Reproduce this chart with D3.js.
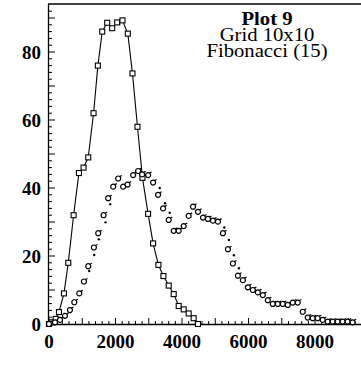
<!DOCTYPE html>
<html lang="en">
<head>
   <meta charset="UTF-8">
   <title>Plot 9</title>
   <style>
      body { margin: 0; background: white; }
      text { font-family: "Liberation Serif", "DejaVu Serif", serif; fill: black; }
      .tick-label { font-weight: bold; font-size: 19px; }
      .note { font-size: 18px; text-anchor: middle; }
   </style>
   <script src="https://cdn.jsdelivr.net/npm/d3@7"></script>
</head>
<body>
   <svg id="chart"></svg>
   <script>
      // squares joined by a line
      const sqX = [0, 100, 200, 300, 450, 580, 740, 900, 1040, 1180, 1340, 1470, 1600, 1750, 1900, 2050, 2210, 2370, 2510, 2660, 2810, 2980, 3130, 3290, 3440, 3600, 3750, 3900, 4050, 4200, 4350, 4480]
      const sqY = [0, 0.5, 1.5, 3.5, 9, 18, 32, 44.4, 46, 49, 62, 76, 86, 88.6, 87, 88.7, 89.3, 85.4, 73.7, 58, 43, 32.4, 23.7, 17.4, 14.1, 11.3, 8.8, 5.3, 4.3, 3.1, 1.7, 0]

      // open circle markers
      const cX = [0, 180, 330, 480, 630, 760, 910, 1050, 1180, 1350, 1480, 1640, 1780, 1930, 2080, 2230, 2360, 2530, 2680, 2800, 2980, 3130, 3280, 3430, 3600, 3750, 3900, 4050, 4200, 4330, 4480, 4630, 4780, 4930, 5080, 5230, 5380, 5530, 5680, 5830, 5980, 6130, 6280, 6430, 6580, 6730, 6880, 7030, 7180, 7330, 7480, 7630, 7780, 7930, 8080, 8230, 8380, 8530, 8680, 8830, 8980, 9130]
      const cY = [0, 0.5, 1.2, 2.4, 4.1, 6.4, 9, 12.5, 17, 22.5, 26.7, 32, 37, 40.4, 42.8, 40.4, 41, 43.8, 45, 44, 43.8, 41.6, 38, 34, 30.6, 27.4, 27.4, 28.8, 31.8, 34.5, 33, 31.3, 30.9, 30.4, 30.1, 26.7, 22, 17.8, 14.2, 12.9, 10.8, 10, 9.3, 8.5, 7, 5.9, 5.9, 5.9, 5.6, 6.3, 6.3, 3.6, 1.9, 1.7, 1.7, 1.2, 0.7, 0.7, 0.7, 0.7, 0.7, 0.5]

      // small filled dots
      const dX = [1210, 1360, 1500, 1700, 1840, 3330, 3490, 3630, 5270, 5410, 5560, 5710]
      const dY = [15.6, 20.3, 24.9, 29.9, 35.2, 40, 35.5, 32.7, 28.4, 24.7, 20.2, 16.4]

      const xTicks = [0, 2000, 4000, 6000, 8000]
      const yTicks = [0, 20, 40, 60, 80]
      const notes = ['Plot 9', 'Grid 10x10', 'Fibonacci (15)']

      const W = 361, H = 374
      const svg = d3.select('#chart').attr('width', W).attr('height', H)

      const x = d3.scaleLinear().domain([0, 9400]).range([49, 361.6])
      const y = d3.scaleLinear().domain([0, 94]).range([324, 4.4])

      // frame: left, top, bottom
      const frame = svg.append('g').attr('stroke', 'black').attr('stroke-width', 1.3)
      frame.append('line').attr('x1', 48.5).attr('x2', 48.5).attr('y1', 4).attr('y2', 324.5)
      frame.append('line').attr('x1', 48).attr('x2', W).attr('y1', 4).attr('y2', 4)
      frame.append('line').attr('x1', 48).attr('x2', W).attr('y1', 324.5).attr('y2', 324.5)

      // inward ticks
      const ticks = svg.append('g').attr('stroke', 'black').attr('stroke-width', 1)
      ticks.selectAll('line.xt')
         .data(d3.range(0, 9401, 200))
         .enter()
         .append('line')
            .attr('x1', d => x(d)).attr('x2', d => x(d))
            .attr('y1', 324).attr('y2', d => d % 1000 === 0 ? 318 : 321)
      ticks.selectAll('line.yt')
         .data(d3.range(0, 94, 2))
         .enter()
         .append('line')
            .attr('x1', 49).attr('x2', d => d % 10 === 0 ? 55 : 52)
            .attr('y1', d => y(d)).attr('y2', d => y(d))

      svg.selectAll('text.xl')
         .data(xTicks)
         .enter()
         .append('text')
            .attr('class', 'tick-label')
            .attr('text-anchor', 'middle')
            .attr('x', d => x(d))
            .attr('y', 348)
            .text(d => d)

      svg.selectAll('text.yl')
         .data(yTicks)
         .enter()
         .append('text')
            .attr('class', 'tick-label')
            .attr('text-anchor', 'end')
            .attr('x', 41)
            .attr('y', d => y(d))
            .attr('dy', '0.35em')
            .text(d => d)

      // line + squares
      const sq = sqX.map((v, i) => [v, sqY[i]])
      svg.append('path')
         .attr('d', d3.line().x(d => x(d[0])).y(d => y(d[1]))(sq))
         .attr('fill', 'none')
         .attr('stroke', 'black')
         .attr('stroke-width', 1.1)
      svg.selectAll('rect.sq')
         .data(sq)
         .enter()
         .append('rect')
            .attr('x', d => x(d[0]) - 2.5)
            .attr('y', d => y(d[1]) - 2.5)
            .attr('width', 5).attr('height', 5)
            .attr('fill', 'white')
            .attr('stroke', 'black')
            .attr('stroke-width', 1.1)

      // circles with a small tail
      const circ = cX.map((v, i) => [v, cY[i]])
      const cg = svg.selectAll('g.c')
         .data(circ)
         .enter()
         .append('g')
            .attr('transform', d => `translate(${x(d[0])}, ${y(d[1])})`)
      cg.append('circle')
         .attr('r', 2.5)
         .attr('fill', 'white')
         .attr('stroke', 'black')
         .attr('stroke-width', 1.2)
      cg.append('line')
         .attr('x1', 1.5).attr('y1', -2)
         .attr('x2', 3.6).attr('y2', -3)
         .attr('stroke', 'black')
         .attr('stroke-width', 1.2)

      svg.selectAll('circle.d')
         .data(dX.map((v, i) => [v, dY[i]]))
         .enter()
         .append('circle')
            .attr('cx', d => x(d[0]))
            .attr('cy', d => y(d[1]))
            .attr('r', 1.2)
            .attr('fill', 'black')

      // notes, stretched a little to get the wide look of the original type
      svg.selectAll('text.note')
         .data(notes)
         .enter()
         .append('text')
            .attr('class', 'note')
            .attr('transform', (d, i) => `translate(267, ${24.5 + i * 16}) scale(1.15, 1)`)
            .attr('font-weight', (d, i) => i === 0 ? 'bold' : 'normal')
            .text(d => d)
   </script>
</body>
</html>
